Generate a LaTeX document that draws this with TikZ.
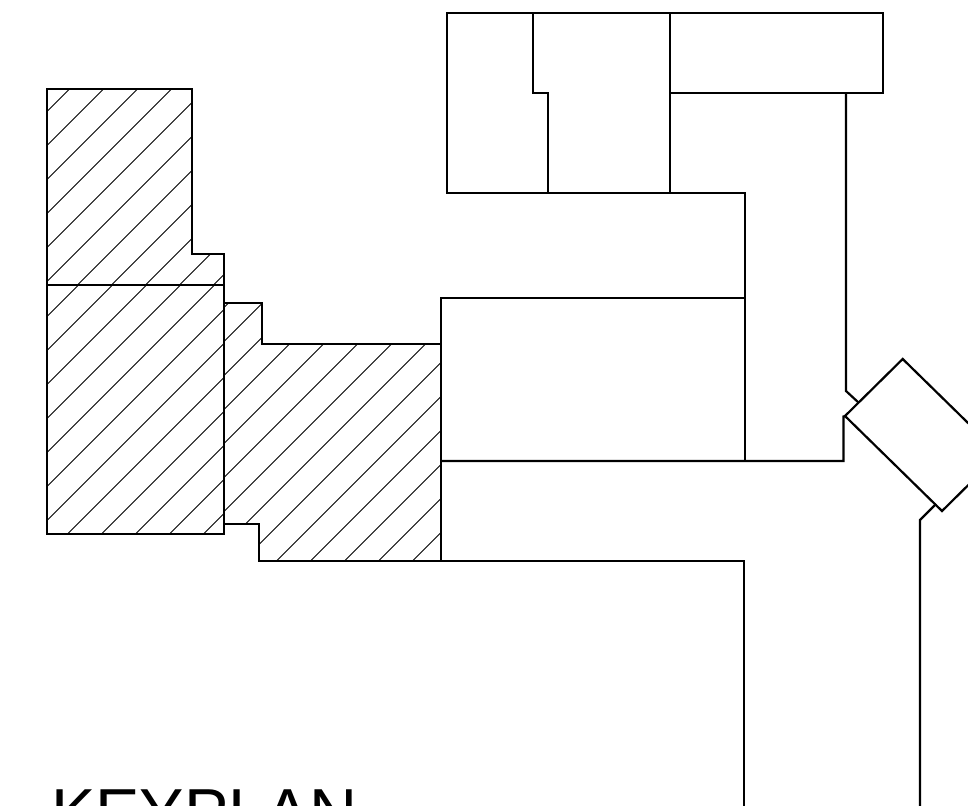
\documentclass[tikz,border=0pt]{standalone}
\usepackage{fontspec}
\setmainfont{Liberation Sans}
\tikzset{
  wall/.style={draw=black,line width=2.2pt,line join=miter,line cap=butt},
  hatchline/.style={draw=black,line width=0.8pt},
  title/.style={inner sep=0pt,anchor=base west,font=\fontsize{66.5}{66.5}\selectfont}
}
\newcommand{\hatchfam}[3]{% first sum, second sum, last sum
  \foreach \s in {#1,#2,...,#3}{\draw[hatchline] (0,\s) -- (\s,0);}}
\begin{document}
\begin{tikzpicture}[x=1pt,y=-1pt]
\useasboundingbox (0,0) rectangle (968,805);
\clip (0,0) rectangle (968,805);
% hatching
\begin{scope}
  \clip (47,89) -- (192,89) -- (192,254) -- (224,254) -- (224,285) -- (47,285) -- cycle;
  \hatchfam{158.5}{192.5}{600}
\end{scope}
\begin{scope}
  \clip (47,285) rectangle (224,534);
  \hatchfam{363.5}{397.5}{800}
\end{scope}
\begin{scope}
  \clip (224,303) -- (262,303) -- (262,344) -- (441,344) -- (441,561) -- (259,561) -- (259,524) -- (224,524) -- cycle;
  \hatchfam{497.5}{531.5}{1100}
\end{scope}
% hatched block outlines
\draw[wall] (47,89) -- (192,89) -- (192,254) -- (224,254) -- (224,285) -- (47,285) -- cycle;
\draw[wall] (47,285) rectangle (224,534);
\draw[wall] (224,303) -- (262,303) -- (262,344) -- (441,344) -- (441,561) -- (259,561) -- (259,524) -- (224,524);
% top blocks
\draw[wall] (670,13) rectangle (883,93);
\draw[wall] (447,13) rectangle (670,193);
\draw[wall] (533,13) -- (533,93) -- (548,93) -- (548,193);
% central wing
\draw[wall] (670,193) -- (745,193) -- (745,461);
\draw[wall] (441,461) -- (441,298) -- (745,298);
\draw[wall] (441,461) -- (843.5,461) -- (843.5,416.5) -- (846,416);
\draw[wall] (846,93) -- (846,391) -- (859,403);
% rotated block
\draw[wall] (902.7,359) -- (845,416) -- (942,511) -- (999.7,454) -- cycle;
% lower wings
\draw[wall] (441,561) -- (744,561) -- (744,810);
\draw[wall] (920,810) -- (920,520) -- (936,504);
% title
\node[title] (keyplan) at (51,835) {KEYPLAN};
\end{tikzpicture}
\end{document}
